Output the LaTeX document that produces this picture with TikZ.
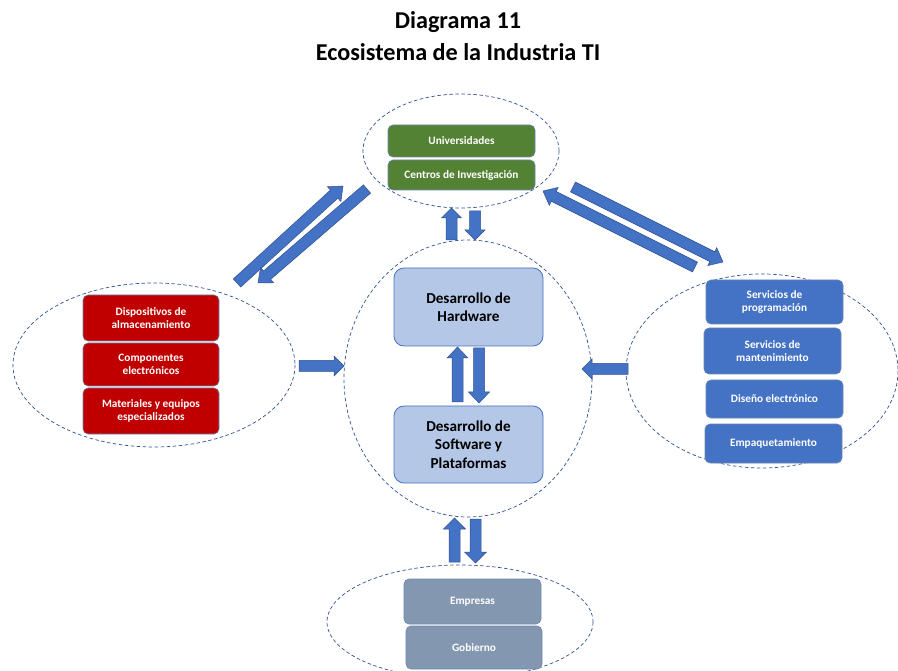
\documentclass[tikz,border=0pt]{standalone}
\usepackage{fontspec}
\setmainfont{Carlito}
\usetikzlibrary{calc}
\definecolor{gr}{HTML}{548235}
\definecolor{rd}{HTML}{C00000}
\definecolor{bl}{HTML}{4472C4}
\definecolor{gb}{HTML}{8497B0}
\definecolor{lb}{HTML}{B4C7E7}
\definecolor{bd}{HTML}{2F528F}
\tikzset{
 ov/.style={draw=bd, dash pattern=on 3.5pt off 2.5pt, line width=0.7pt},
 sbox/.style={draw=bd!70, line width=0.6pt, rounded corners=5pt, text=white,
   font=\bfseries\fontsize{11.3}{13.5}\selectfont, align=center, inner sep=0pt},
 cbox/.style={draw=bl, line width=0.8pt, fill=lb, rounded corners=10pt, text=black,
   font=\bfseries\fontsize{15.2}{18.3}\selectfont, align=center, inner sep=0pt,
   minimum width=149pt},
 arrst/.style={fill=bl, draw=bd, line width=0.5pt, line join=miter},
 ttl/.style={font=\bfseries\fontsize{24.2}{28}\selectfont, inner sep=0pt}
}
\newcommand\barw[5]{%
 \coordinate (bq) at ($(#2)!#5!(#1)$);
 \filldraw[arrst] ($(#1)!#3!90:(#2)$) -- ($(bq)!#3!90:(#2)$) -- ($(bq)!#4!90:(#2)$) -- (#2)
   -- ($(bq)!#4!-90:(#2)$) -- ($(bq)!#3!-90:(#2)$) -- ($(#1)!#3!-90:(#2)$) -- cycle;}
\begin{document}
\begin{tikzpicture}[x=1pt,y=-1pt]
\useasboundingbox (0,0) rectangle (898,671);
\clip (0,0) rectangle (898,671);
% titles
\node[ttl] (t1) at (458,22) {Diagrama 11};
\node[ttl] (t2) at (458,52) {Ecosistema de la Industria TI};
% ellipses
\draw[ov] (461,151) ellipse [x radius=98, y radius=57];
\draw[ov] (154,365) ellipse [x radius=141, y radius=82];
\draw[ov] (762,371) ellipse [x radius=136, y radius=97];
\draw[ov] (460,622) ellipse [x radius=133, y radius=57];
\draw[ov] (468,378.5) ellipse [x radius=124, y radius=138.5];
% top boxes
\node[sbox, fill=gr, minimum width=147pt, minimum height=32pt] (univ) at (461.5,141) {Universidades};
\node[sbox, fill=gr, minimum width=147pt, minimum height=30pt] (cent) at (461.5,175) {Centros de Investigación};
% left boxes
\node[sbox, fill=rd, minimum width=136pt, minimum height=46pt] (disp) at (151,318) {Dispositivos de\\almacenamiento};
\node[sbox, fill=rd, minimum width=136pt, minimum height=43pt] (comp) at (151,364.5) {Componentes\\electrónicos};
\node[sbox, fill=rd, minimum width=136pt, minimum height=46pt] (mat) at (151,411) {Materiales y equipos\\especializados};
% right boxes
\node[sbox, fill=bl, minimum width=137pt, minimum height=44pt] (prog) at (774.5,302) {Servicios de\\programación};
\node[sbox, fill=bl, minimum width=137pt, minimum height=46pt] (mant) at (772.5,351) {Servicios de\\mantenimiento};
\node[sbox, fill=bl, minimum width=137pt, minimum height=38pt] (dis) at (774.5,399) {Diseño electrónico};
\node[sbox, fill=bl, minimum width=137pt, minimum height=39pt] (emp) at (773.5,443.5) {Empaquetamiento};
% bottom boxes
\node[sbox, fill=gb, minimum width=137pt, minimum height=45pt] (empr) at (472.5,601.5) {Empresas};
\node[sbox, fill=gb, minimum width=136pt, minimum height=43pt] (gob) at (474,647.5) {Gobierno};
% center boxes
\node[cbox, minimum height=78pt] (hw) at (468.5,307) {Desarrollo de\\Hardware};
\node[cbox, minimum height=77pt] (sw) at (468.5,444.5) {Desarrollo de\\Software y\\Plataformas};
% arrow end points
\coordinate (tuT) at (451.5,240); \coordinate (tuP) at (451.5,208);
\coordinate (tdT) at (475,211);   \coordinate (tdP) at (475,240);
\coordinate (cuT) at (457.5,402); \coordinate (cuP) at (457.5,347);
\coordinate (cdT) at (479,348);   \coordinate (cdP) at (479,403);
\coordinate (buT) at (454.5,562); \coordinate (buP) at (454.5,518);
\coordinate (bdT) at (475.5,519); \coordinate (bdP) at (475.5,563);
\coordinate (lhT) at (299,366);   \coordinate (lhP) at (344,366);
\coordinate (rhT) at (628,369);   \coordinate (rhP) at (582,369);
\coordinate (l1T) at (237,283);   \coordinate (l1P) at (343,186);
\coordinate (l2T) at (367,189);   \coordinate (l2P) at (258,283);
\coordinate (r1T) at (695,267);   \coordinate (r1P) at (543,191);
\coordinate (r2T) at (573,187);   \coordinate (r2P) at (723,262);
% arrows
\barw{tuT}{tuP}{5.5pt}{10pt}{10pt}
\barw{tdT}{tdP}{5.5pt}{10pt}{10pt}
\barw{cuT}{cuP}{5.5pt}{10.5pt}{11pt}
\barw{cdT}{cdP}{5.5pt}{10.5pt}{11pt}
\barw{buT}{buP}{5.5pt}{11pt}{11pt}
\barw{bdT}{bdP}{5.5pt}{11pt}{11pt}
\barw{lhT}{lhP}{5.5pt}{10pt}{10pt}
\barw{rhT}{rhP}{5.5pt}{10pt}{10pt}
\barw{l1T}{l1P}{5.5pt}{10pt}{12pt}
\barw{l2T}{l2P}{5.5pt}{10pt}{12pt}
\barw{r1T}{r1P}{5.5pt}{10pt}{12pt}
\barw{r2T}{r2P}{5.5pt}{10pt}{12pt}
\end{tikzpicture}
\end{document}
